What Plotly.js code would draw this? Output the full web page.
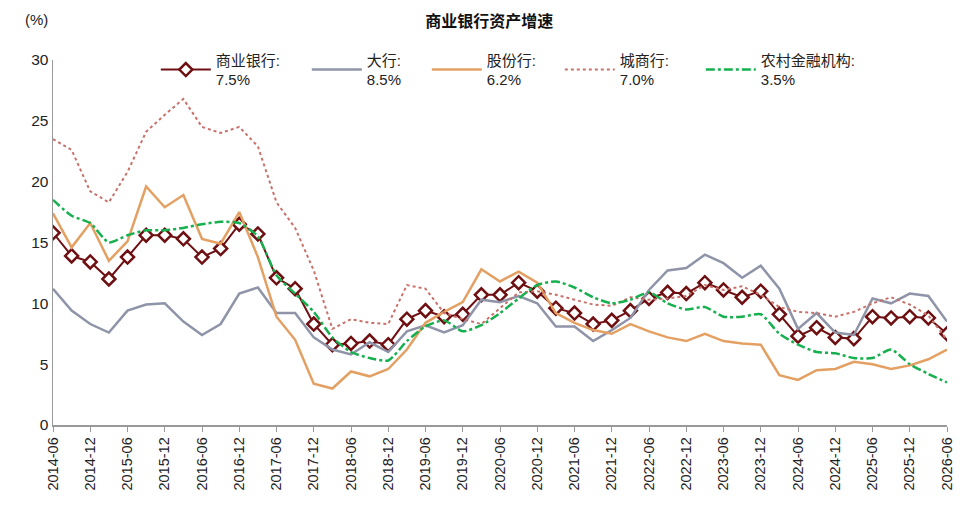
<!DOCTYPE html>
<html>
<head>
<meta charset="utf-8">
<script src="https://cdn.plot.ly/plotly-3.0.1.min.js"></script>
<style>
  html, body { margin: 0; padding: 0; background: #fff; }
  #chart { width: 969px; height: 507px; }
</style>
</head>
<body>
<div id="chart"></div>
<script>
// quarterly, 2014-06 .. 2026-06
var quarters = [
  '2014-06','2014-09','2014-12','2015-03','2015-06','2015-09','2015-12','2016-03',
  '2016-06','2016-09','2016-12','2017-03','2017-06','2017-09','2017-12','2018-03',
  '2018-06','2018-09','2018-12','2019-03','2019-06','2019-09','2019-12','2020-03',
  '2020-06','2020-09','2020-12','2021-03','2021-06','2021-09','2021-12','2022-03',
  '2022-06','2022-09','2022-12','2023-03','2023-06','2023-09','2023-12','2024-03',
  '2024-06','2024-09','2024-12','2025-03','2025-06','2025-09','2025-12','2026-03',
  '2026-06'
];
var tickLabels = [
  '2014-06','2014-12','2015-06','2015-12','2016-06','2016-12','2017-06','2017-12',
  '2018-06','2018-12','2019-06','2019-12','2020-06','2020-12','2021-06','2021-12',
  '2022-06','2022-12','2023-06','2023-12','2024-06','2024-12','2025-06','2025-12',
  '2026-06'
];

var commercial = [15.8,13.9,13.4,12.0,13.8,15.6,15.6,15.3,13.8,14.5,16.5,15.7,12.1,11.2,8.3,6.6,
  6.7,6.9,6.6,8.7,9.4,8.9,9.1,10.7,10.7,11.7,11.0,9.6,9.2,8.3,8.6,9.4,
  10.4,10.9,10.8,11.7,11.1,10.5,11.0,9.1,7.3,8.0,7.2,7.1,8.9,8.8,8.9,8.8,7.5];
var bigBanks = [11.2,9.4,8.3,7.6,9.4,9.9,10.0,8.5,7.4,8.3,10.8,11.3,9.2,9.2,7.2,6.2,
  5.8,6.8,6.0,7.7,8.2,7.6,8.2,10.3,10.1,10.6,10.0,8.1,8.1,6.9,7.8,8.8,
  11.1,12.7,12.9,14.0,13.3,12.1,13.1,11.2,7.9,9.2,7.6,7.4,10.4,10.0,10.8,10.6,8.5];
var jointStock = [17.4,14.6,16.6,13.5,15.1,19.6,17.9,18.9,15.3,14.9,17.5,13.8,8.9,7.0,3.4,3.0,
  4.4,4.0,4.6,6.2,8.4,9.3,10.1,12.8,11.8,12.6,11.7,9.2,8.4,7.8,7.5,8.3,
  7.7,7.2,6.9,7.5,6.9,6.7,6.6,4.1,3.7,4.5,4.6,5.2,5.0,4.6,4.9,5.4,6.2];
var cityBanks = [23.5,22.6,19.2,18.3,20.8,24.1,25.5,26.8,24.5,24.0,24.5,22.9,18.3,16.2,12.7,7.9,
  8.7,8.4,8.3,11.5,11.2,9.2,8.7,8.3,9.6,10.9,11.0,10.7,10.3,9.9,9.8,10.5,
  10.3,10.4,10.6,11.5,11.1,11.4,10.7,9.7,9.3,9.2,8.9,9.3,10.0,10.5,9.9,9.0,7.0];
var ruralBanks = [18.5,17.2,16.6,15.0,15.6,16.0,16.0,16.2,16.5,16.7,16.6,15.5,12.3,10.8,9.3,7.2,
  6.0,5.5,5.3,6.9,8.1,8.6,7.7,8.2,9.2,10.4,11.5,11.8,11.3,10.5,10.0,10.3,
  10.9,10.0,9.5,9.7,8.9,8.9,9.1,7.5,6.6,6.0,5.9,5.5,5.5,6.2,5.0,4.2,3.5];

var names = ['商业银行:<br>7.5%', '大行:<br>8.5%', '股份行:<br>6.2%', '城商行:<br>7.0%', '农村金融机构:<br>3.5%'];
var legendWidths = [86, 55, 68, 76, 110];

var data = [
  {x: quarters, y: commercial, name: names[0], type: 'scatter', mode: 'lines+markers',
   line: {color: '#6E0F12', width: 2},
   marker: {symbol: 'diamond', size: 10, color: '#ffffff', line: {color: '#6E0F12', width: 2.5}}},
  {x: quarters, y: bigBanks, name: names[1], type: 'scatter', mode: 'lines',
   line: {color: '#8F94A8', width: 2.5}},
  {x: quarters, y: jointStock, name: names[2], type: 'scatter', mode: 'lines',
   line: {color: '#E3A062', width: 2.5}},
  {x: quarters, y: cityBanks, name: names[3], type: 'scatter', mode: 'lines',
   line: {color: '#C8706A', width: 2, dash: 'dot'}},
  {x: quarters, y: ruralBanks, name: names[4], type: 'scatter', mode: 'lines',
   line: {color: '#16B04F', width: 2.5, dash: 'dashdot', shape: 'spline', smoothing: 0.6}}
];
data.forEach(function (t, i) { t.legendwidth = legendWidths[i]; });

var layout = {
  width: 969, height: 507,
  margin: {l: 53, r: 22, t: 60, b: 82},
  paper_bgcolor: '#fff', plot_bgcolor: '#fff',
  font: {family: 'Liberation Sans, Arial, Noto Sans CJK SC, sans-serif', size: 15, color: '#222'},
  title: {text: '<b>商业银行资产增速</b>', x: 0.505, xanchor: 'center', y: 0.957, yanchor: 'middle',
          font: {family: 'Noto Sans CJK SC, sans-serif', size: 16, color: '#111'}},
  showlegend: true,
  legend: {orientation: 'h', x: 0.115, xanchor: 'left', y: 1.045, yanchor: 'top',
           bgcolor: 'rgba(0,0,0,0)', itemwidth: 50, tracegroupgap: 0,
           font: {family: 'Liberation Sans, Noto Sans CJK SC, sans-serif', size: 15, color: '#222'}},
  xaxis: {
    type: 'category', range: [0, 48], tickmode: 'array', tickvals: tickLabels, ticktext: tickLabels,
    tickangle: -90, ticks: 'outside', ticklen: 5, tickcolor: '#999', showgrid: false, zeroline: false,
    showline: true, linecolor: '#999', linewidth: 1.5,
    tickfont: {size: 14.5, color: '#222'}
  },
  yaxis: {
    range: [0, 30], dtick: 5, showgrid: false, zeroline: false,
    showline: true, linecolor: '#999', linewidth: 1.5, ticks: '', ticklen: 0,
    tickfont: {size: 15.5, color: '#222'}
  },
  annotations: [
    {text: '(%)', xref: 'paper', yref: 'paper', x: -0.018, y: 1.11, xanchor: 'center', yanchor: 'middle',
     showarrow: false, font: {size: 15, color: '#222'}}
  ]
};

Plotly.newPlot('chart', data, layout, {displayModeBar: false, staticPlot: true});
</script>
</body>
</html>
